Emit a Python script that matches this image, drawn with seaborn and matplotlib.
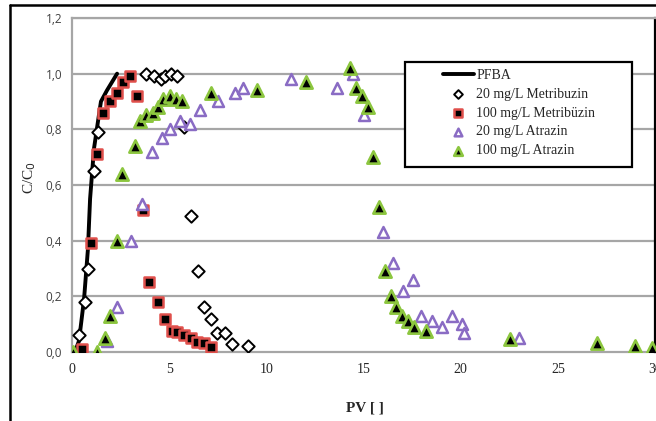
import numpy as np
import pandas as pd
import seaborn as sns
import matplotlib.pyplot as plt
from matplotlib.patches import Rectangle
from matplotlib.lines import Line2D

sns.set_theme(style="white")
plt.rcParams["font.family"] = ["Liberation Serif", "DejaVu Sans"]

# PFBA tracer curve
pfba_x = [0.15, 0.36, 0.62, 0.82, 0.93, 1.13, 1.34, 1.49, 1.80, 2.06, 2.32]
pfba_y = [0.00, 0.04, 0.19, 0.37, 0.55, 0.73, 0.83, 0.90, 0.94, 0.97, 1.00]

# 20 mg/L Metribuzin
met20_x = [0.36, 0.67, 0.82, 1.13, 1.34, 3.81, 4.22, 4.58, 4.79, 5.10, 5.40,
           5.76, 6.12, 6.48, 6.79, 7.15, 7.46, 7.87, 8.23, 9.06]
met20_y = [0.06, 0.18, 0.30, 0.65, 0.79, 1.00, 0.99, 0.98, 0.99, 1.00, 0.99,
           0.81, 0.49, 0.29, 0.16, 0.12, 0.07, 0.07, 0.03, 0.02]

# 100 mg/L Metribuzin
met100_x = [0.51, 0.98, 1.29, 1.60, 1.96, 2.32, 2.62, 2.99, 3.35, 3.65, 3.96,
            4.43, 4.79, 5.15, 5.40, 5.76, 6.12, 6.43, 6.79, 7.15]
met100_y = [0.01, 0.39, 0.71, 0.86, 0.90, 0.93, 0.97, 0.99, 0.92, 0.51, 0.25,
            0.18, 0.12, 0.075, 0.072, 0.06, 0.05, 0.036, 0.032, 0.018]

# 20 mg/L Atrazin
atr20_x = [1.80, 2.32, 3.04, 3.60, 4.12, 4.63, 5.04, 5.56, 6.07, 6.59, 7.51,
           8.39, 8.80, 11.27, 13.64, 14.46, 15.03, 16.00, 16.52, 17.04, 17.55,
           17.96, 18.53, 19.04, 19.56, 20.07, 20.17, 23.00]
atr20_y = [0.04, 0.16, 0.40, 0.53, 0.72, 0.77, 0.80, 0.83, 0.82, 0.87, 0.90,
           0.93, 0.95, 0.98, 0.95, 1.00, 0.85, 0.43, 0.32, 0.22, 0.26,
           0.13, 0.11, 0.09, 0.13, 0.10, 0.07, 0.05]

# 100 mg/L Atrazin
atr100_x = [0.05, 1.29, 1.70, 1.96, 2.32, 2.57, 3.24, 3.50, 3.81, 4.17, 4.43,
            4.68, 5.04, 5.35, 5.66, 7.15, 9.52, 12.04, 14.31, 14.62, 14.93,
            15.23, 15.49, 15.80, 16.11, 16.42, 16.68, 16.98, 17.29, 17.60,
            18.22, 22.54, 27.02, 28.98, 29.85]
atr100_y = [0.00, 0.00, 0.05, 0.13, 0.40, 0.64, 0.74, 0.83, 0.85, 0.86, 0.88,
            0.91, 0.92, 0.91, 0.90, 0.93, 0.94, 0.97, 1.02, 0.95, 0.92,
            0.88, 0.70, 0.52, 0.29, 0.20, 0.16, 0.13, 0.11, 0.09,
            0.075, 0.047, 0.032, 0.022, 0.014]

x_ticks = [0, 5, 10, 15, 20, 25, 30]
y_ticks = [0.0, 0.2, 0.4, 0.6, 0.8, 1.0, 1.2]

W, H = 656, 421
fig = plt.figure(figsize=(W / 100, H / 100), dpi=100)
ax = fig.add_axes([72 / W, (H - 352) / H, 583 / W, 334 / H])

grid_c = "#a6a6a6"
for v in y_ticks[1:]:
    ax.axhline(v, color=grid_c, lw=1.6, zorder=0)

sns.lineplot(x=pfba_x, y=pfba_y, ax=ax, color="black", lw=2.8, sort=False,
             estimator=None, label="PFBA", zorder=2)
sns.scatterplot(x=met20_x, y=met20_y, ax=ax, marker="D", s=40, color="white",
                edgecolor="black", linewidth=1.4, label="20 mg/L Metribuzin", zorder=3)
sns.scatterplot(x=met100_x, y=met100_y, ax=ax, marker="s", s=52, color="black",
                edgecolor="#e0504c", linewidth=1.8, label="100 mg/L Metribüzin", zorder=4)
sns.scatterplot(x=atr20_x, y=atr20_y, ax=ax, marker="^", s=62, color="white",
                edgecolor="#8a6cc4", linewidth=1.8, label="20 mg/L Atrazin", zorder=5)
sns.scatterplot(x=atr100_x, y=atr100_y, ax=ax, marker="^", s=78, color="black",
                edgecolor="#8cc63f", linewidth=1.9, label="100 mg/L Atrazin", zorder=6)

ax.set_xlim(0, 30)
ax.set_ylim(0, 1.2)
ax.set_xticks(x_ticks)
ax.set_yticks(y_ticks)
ax.set_xticklabels([str(t) for t in x_ticks], fontsize=10, family="Liberation Serif")
ax.set_yticklabels([f"{t:.1f}".replace(".", ",") for t in y_ticks], fontsize=8.5,
                   family="Open Sans", color="#404040")
ax.tick_params(length=0, pad=8)
ax.tick_params(axis="y", pad=7)

for side in ["left", "bottom", "top"]:
    ax.spines[side].set_color(grid_c)
    ax.spines[side].set_linewidth(1.6)
ax.spines["right"].set_color("black")
ax.spines["right"].set_linewidth(1.6)

ax.set_xlabel("PV [ ]", fontsize=11, fontweight="bold", family="Liberation Serif")
ax.xaxis.set_label_coords((365 - 72) / 583, (352 - 402) / 334)
ax.set_ylabel("C/C$_0$", fontsize=11, family="Liberation Serif")
ax.yaxis.set_label_coords((38 - 72) / 583, (352 - 178) / 334)

# legend box
bx0, bx1, by0, by1 = 405, 632, 62, 167
ax.add_patch(Rectangle(((bx0 - 72) / 583, (352 - by1) / 334), (bx1 - bx0) / 583,
                       (by1 - by0) / 334, transform=ax.transAxes, facecolor="white",
                       edgecolor="black", lw=1.6, zorder=7))
handles, labels = ax.get_legend_handles_labels()
leg = ax.legend(handles, labels, loc="upper left",
                bbox_to_anchor=((436 - 72) / 583, (352 - 62) / 334),
                frameon=False, borderpad=0, handlelength=2.2, handletextpad=0.2,
                labelspacing=0.42, markerscale=0.7,
                prop={"family": "Liberation Serif", "size": 10})
leg.set_zorder(8)

# outer chart frame
fig.add_artist(Line2D([10 / W, 1], [1 - 5 / H, 1 - 5 / H], color="black", lw=1.8,
                      transform=fig.transFigure))
fig.add_artist(Line2D([10 / W, 10 / W], [0, 1 - 5 / H], color="black", lw=1.8,
                      transform=fig.transFigure))

fig.savefig("out.png", dpi=100)
plt.close(fig)
